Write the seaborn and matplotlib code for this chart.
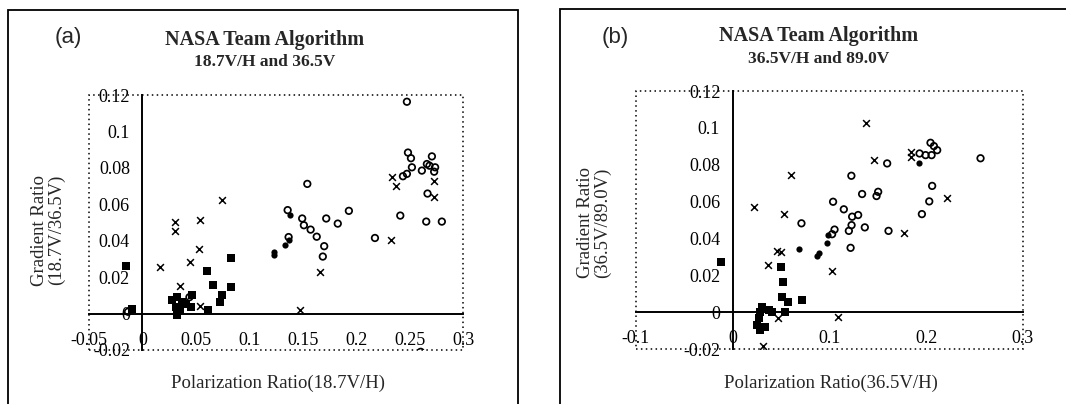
import numpy as np
import pandas as pd
import matplotlib
matplotlib.use("Agg")
import matplotlib.pyplot as plt
from matplotlib.patches import Rectangle
import seaborn as sns

W, H = 1066, 404

# ---- panel (a): 18.7V/H and 36.5V ----
a_square_x = [-0.0155, -0.0099, 0.0825, 0.0601, 0.0664, 0.0825, 0.0741, 0.0726, 0.0617,
              0.0281, 0.0321, 0.0312, 0.0328, 0.0374, 0.0468, 0.0452, 0.0405, 0.0352]
a_square_y = [0.0262, 0.0027, 0.0303, 0.0235, 0.0157, 0.0148, 0.0100, 0.0063, 0.0018,
              0.0072, 0.0090, 0.0036, -0.0009, 0.0063, 0.0100, 0.0036, 0.0054, 0.0018]
a_dot_x = [0.1232, 0.1232, 0.1337, 0.1368, 0.1378]
a_dot_y = [0.0337, 0.0319, 0.0378, 0.0402, 0.0540]
a_ring_x = [0.2475, 0.2485, 0.2513, 0.2522, 0.2475, 0.2438, 0.2615, 0.2662, 0.2709, 0.2686,
            0.2739, 0.2730, 0.2668, 0.2413, 0.2656, 0.2802, 0.2176, 0.1932, 0.1828, 0.1720,
            0.1631, 0.1701, 0.1688, 0.1543, 0.1495, 0.1511, 0.1574, 0.1359, 0.1368, -0.0135,
            0.0440, 0.2604]
a_ring_y = [0.1163, 0.0884, 0.0853, 0.0803, 0.0767, 0.0754, 0.0785, 0.0821, 0.0863, 0.0812,
            0.0803, 0.0779, 0.0659, 0.0538, 0.0505, 0.0505, 0.0415, 0.0564, 0.0494, 0.0522,
            0.0422, 0.0370, 0.0313, 0.0712, 0.0522, 0.0485, 0.0461, 0.0568, 0.0420, 0.0010,
            0.0090, -0.0210]
a_cross_x = [0.0165, 0.0307, 0.0307, 0.0352, 0.0445, 0.0529, 0.0542, 0.0539, 0.0741, 0.1473,
             0.1663, 0.2328, 0.2335, 0.2375, 0.2724, 0.2733]
a_cross_y = [0.0258, 0.0503, 0.0453, 0.0150, 0.0285, 0.0352, 0.0512, 0.0040, 0.0625, 0.0020,
             0.0227, 0.0402, 0.0752, 0.0700, 0.0730, 0.0640]

# ---- panel (b): 36.5V/H and 89.0V ----
b_square_x = [-0.0121, 0.0500, 0.0520, 0.0510, 0.0572, 0.0717, 0.0545, 0.0303, 0.0286,
              0.0269, 0.0251, 0.0286, 0.0331, 0.0406, 0.0372]
b_square_y = [0.0270, 0.0246, 0.0161, 0.0083, 0.0056, 0.0065, 0.0002, 0.0029, 0.0002,
              -0.0034, -0.0071, -0.0098, -0.0083, 0.0002, 0.0011]
b_dot_x = [0.0986, 0.0976, 0.0889, 0.0872, 0.0688, 0.1923]
b_dot_y = [0.0418, 0.0373, 0.0322, 0.0304, 0.0342, 0.0810]
b_ring_x = [0.2561, 0.1596, 0.1931, 0.1993, 0.2055, 0.2044, 0.2079, 0.2113, 0.2061, 0.2031,
            0.1955, 0.1337, 0.1503, 0.1486, 0.1037, 0.1148, 0.1296, 0.1234, 0.1228, 0.1365,
            0.1200, 0.1052, 0.1027, 0.1610, 0.1218, 0.0710, 0.1226]
b_ring_y = [0.0835, 0.0807, 0.0861, 0.0852, 0.0852, 0.0919, 0.0901, 0.0879, 0.0685, 0.0601,
            0.0532, 0.0641, 0.0653, 0.0630, 0.0599, 0.0558, 0.0527, 0.0518, 0.0472, 0.0460,
            0.0441, 0.0448, 0.0423, 0.0441, 0.0349, 0.0482, 0.0740]
b_cross_x = [0.1375, 0.1463, 0.1838, 0.1838, 0.2216, 0.1768, 0.1027, 0.1088, 0.0597, 0.0219,
             0.0527, 0.0455, 0.0500, 0.0365, 0.0468, 0.0310]
b_cross_y = [0.1024, 0.0824, 0.0870, 0.0843, 0.0619, 0.0430, 0.0224, -0.0027, 0.0742, 0.0569,
             0.0533, 0.0333, 0.0324, 0.0255, -0.0034, -0.0185]

y_ticks = [-0.02, 0, 0.02, 0.04, 0.06, 0.08, 0.1, 0.12]
y_labels = ["-0.02", "0", "0.02", "0.04", "0.06", "0.08", "0.1", "0.12"]
a_x_ticks = [-0.05, 0, 0.05, 0.1, 0.15, 0.2, 0.25, 0.3]
a_x_labels = ["-0.05", "0", "0.05", "0.1", "0.15", "0.2", "0.25", "0.3"]
b_x_ticks = [-0.1, 0, 0.1, 0.2, 0.3]
b_x_labels = ["-0.1", "0", "0.1", "0.2", "0.3"]

sns.set_theme(style="white")
plt.rcParams["font.family"] = ["Liberation Serif", "DejaVu Serif"]


def fx(px):
    return px / W


def fy(py):
    return 1 - py / H


def draw_panel(ax, sq, dot, ring, cross, xlim, xticks, xlabels):
    df_sq = pd.DataFrame({"x": sq[0], "y": sq[1]})
    df_dot = pd.DataFrame({"x": dot[0], "y": dot[1]})
    df_ring = pd.DataFrame({"x": ring[0], "y": ring[1]})
    df_cross = pd.DataFrame({"x": cross[0], "y": cross[1]})

    sns.scatterplot(data=df_sq, x="x", y="y", ax=ax, marker="s", s=30,
                    color="black", linewidth=0)
    sns.scatterplot(data=df_dot, x="x", y="y", ax=ax, marker="o", s=20,
                    color="black", linewidth=0)
    sns.scatterplot(data=df_ring, x="x", y="y", ax=ax, marker="o", s=22,
                    facecolor="none", edgecolor="black", linewidth=1.25)
    sns.scatterplot(data=df_cross, x="x", y="y", ax=ax, marker="x", s=24,
                    color="black", linewidth=1.1)

    ax.set_xlim(*xlim)
    ax.set_ylim(-0.02, 0.12)
    ax.set_xlabel("")
    ax.set_ylabel("")
    ax.set_facecolor("none")

    # axes cross at the origin
    for side in ["top", "right"]:
        ax.spines[side].set_visible(False)
    ax.spines["left"].set_position(("data", 0))
    ax.spines["bottom"].set_position(("data", 0))
    for side in ["left", "bottom"]:
        ax.spines[side].set_color("black")
        ax.spines[side].set_linewidth(1.4)

    ax.set_xticks(xticks, xlabels)
    ax.set_yticks(y_ticks, y_labels)
    ax.tick_params(axis="both", direction="in", length=4, width=1,
                   colors="black", labelsize=13)
    ax.tick_params(axis="x", pad=13)
    ax.tick_params(axis="y", pad=9)

    # dotted plot-area frame
    ax.add_patch(Rectangle((0, 0), 1, 1, transform=ax.transAxes, fill=False,
                           edgecolor="black", linewidth=1.1,
                           linestyle=(0, (1, 2.2)), clip_on=False))


fig = plt.figure(figsize=(W / 100, H / 100), dpi=100)
fig.patch.set_facecolor("white")

ax_a = fig.add_axes([fx(89), fy(350), fx(463) - fx(89), fy(95) - fy(350)])
ax_b = fig.add_axes([fx(636), fy(349), fx(1023) - fx(636), fy(91) - fy(349)])

draw_panel(ax_a, (a_square_x, a_square_y), (a_dot_x, a_dot_y),
           (a_ring_x, a_ring_y), (a_cross_x, a_cross_y),
           (-0.05, 0.3), a_x_ticks, a_x_labels)
draw_panel(ax_b, (b_square_x, b_square_y), (b_dot_x, b_dot_y),
           (b_ring_x, b_ring_y), (b_cross_x, b_cross_y),
           (-0.1, 0.3), b_x_ticks, b_x_labels)

# outer panel borders
fig.patches.append(Rectangle((fx(8), fy(420)), fx(518) - fx(8), fy(10) - fy(420),
                             transform=fig.transFigure, fill=False,
                             edgecolor="black", linewidth=1.3))
fig.patches.append(Rectangle((fx(560), fy(420)), fx(1080) - fx(560), fy(9) - fy(420),
                             transform=fig.transFigure, fill=False,
                             edgecolor="black", linewidth=1.3))

# titles and labels
sans = ["Liberation Sans", "DejaVu Sans"]
fig.text(fx(68), fy(37), "(a)", fontsize=16, family=sans, ha="center", va="center")
fig.text(fx(615), fy(37), "(b)", fontsize=16, family=sans, ha="center", va="center")

fig.text(fx(265), fy(40), "NASA Team Algorithm", fontsize=14.5, fontweight="bold",
         ha="center", va="center")
fig.text(fx(265), fy(62), "18.7V/H and 36.5V", fontsize=12.5, fontweight="bold",
         ha="center", va="center")
fig.text(fx(819), fy(36), "NASA Team Algorithm", fontsize=14.5, fontweight="bold",
         ha="center", va="center")
fig.text(fx(819), fy(59), "36.5V/H and 89.0V", fontsize=12.5, fontweight="bold",
         ha="center", va="center")

fig.text(fx(48), fy(230), "Gradient Ratio\n(18.7V/36.5V)", fontsize=13.5,
         rotation=90, ha="center", va="center", linespacing=1.0)
fig.text(fx(594), fy(223), "Gradient Ratio\n(36.5V/89.0V)", fontsize=13.5,
         rotation=90, ha="center", va="center", linespacing=1.0)

fig.text(fx(278), fy(383), "Polarization Ratio(18.7V/H)", fontsize=13.5,
         ha="center", va="center")
fig.text(fx(831), fy(383), "Polarization Ratio(36.5V/H)", fontsize=13.5,
         ha="center", va="center")

fig.savefig("out.png", dpi=100, facecolor="white")
